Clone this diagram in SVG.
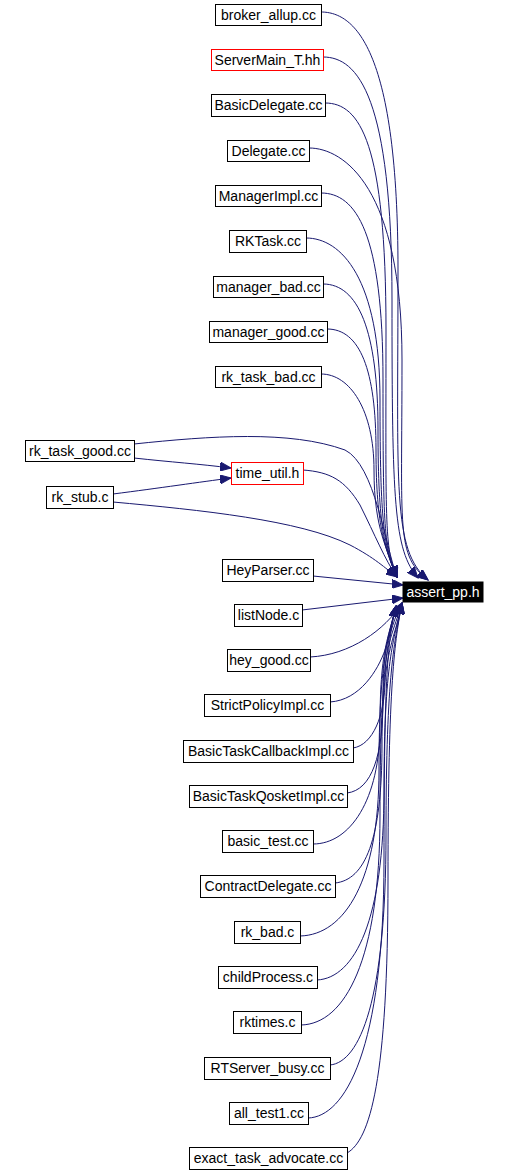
<svg xmlns="http://www.w3.org/2000/svg" width="508" height="1172" viewBox="0 0 508 1172">
<style>
rect{fill:#fff;stroke:#000;stroke-width:1}
.red rect{stroke:#f00}
text{font-family:"Liberation Sans",Arial,sans-serif;font-size:14px;text-anchor:middle;fill:#000}
.hl rect{fill:#000;stroke:#000}
.hl text{fill:#fff}
.e path{fill:none;stroke:#191970;stroke-width:1;marker-end:url(#a)}
</style>
<defs>
<marker id="a" markerWidth="12" markerHeight="9" refX="11" refY="4.5" orient="auto" markerUnits="userSpaceOnUse"><path d="M0,0 L11,4.5 L0,9 z" fill="#191970" stroke="#191970"/></marker>
</defs>
<g class="e" id="edges">
<path d="M 321,12 C 356,12 398,52 398,270 S 392,550 428,580"/>
<path d="M 323,57 C 358,57 392,97 392,300 S 394,550 418,578"/>
<path d="M 325,103 C 360,103 386,143 386,330 S 384,550 397,577"/>
<path d="M 309,148 C 344,148 402,188 402,360 S 396,555 428,580"/>
<path d="M 321,193 C 356,193 383,233 383,380 S 384,550 397,577"/>
<path d="M 306,238 C 341,238 380,278 380,400 S 384,550 397,577"/>
<path d="M 323,284 C 358,284 378,330 378,430 S 385,550 397,577"/>
<path d="M 327,329 C 360,329 376,370 376,450 S 386,550 397,577"/>
<path d="M 321,374 C 350,374 374,410 374,470 S 388,550 397,577"/>
<path d="M 134,444 C 210,436 290,430 345,450 C 375,465 385,545 397,577"/>
<path d="M 134,458 C 170,462 200,464 231,468"/>
<path d="M 113,494 C 160,488 200,482 231,478"/>
<path d="M 113,502 C 200,510 300,520 350,545 C 375,558 385,568 397,577"/>
<path d="M 303,470 C 330,472 345,480 360,505 C 375,535 385,560 397,577"/>
<path d="M 313,576 L 403,585"/>
<path d="M 302,610 L 403,598"/>
<path d="M 310,657 C 350,655 385,630 402,603"/>
<path d="M 330,702 C 360,700 378,670 385,650 C 390,635 395,615 402,603"/>
<path d="M 353,748 C 373,745 385,715 385,680 S 394,630 402,603"/>
<path d="M 347,793 C 372,790 383,755 383,700 S 389,636 396,606"/>
<path d="M 313,844 C 350,844 380,800 380,725 S 388,640 396,606"/>
<path d="M 335,883 C 365,880 382,840 382,745 S 395,640 402,603"/>
<path d="M 300,936 C 345,935 379,880 379,770 S 388,640 396,606"/>
<path d="M 317,980 C 355,978 384,920 384,790 S 394,640 402,603"/>
<path d="M 301,1025 C 345,1024 380,960 380,815 S 388,640 396,606"/>
<path d="M 330,1065 C 360,1062 386,1000 386,835 S 395,640 402,603"/>
<path d="M 308,1118 C 345,1117 384,1050 384,860 S 388,640 396,606"/>
<path d="M 347,1153 C 370,1140 388,1080 388,880 S 395,640 402,603"/>
</g>
<g id="n_assert" class="hl"><rect x="403" y="582" width="80" height="20"/><text x="443" y="597">assert_pp.h</text></g>
<g id="n1"><rect x="215.5" y="4.5" width="106" height="21"/><text x="268.5" y="20">broker_allup.cc</text></g>
<g id="n2" class="red"><rect x="211.5" y="49.5" width="112" height="21"/><text x="267.5" y="65">ServerMain_T.hh</text></g>
<g id="n3"><rect x="211.5" y="94.5" width="114" height="22"/><text x="268.5" y="110">BasicDelegate.cc</text></g>
<g id="n4"><rect x="227.5" y="140.5" width="82" height="21"/><text x="268.5" y="156">Delegate.cc</text></g>
<g id="n5"><rect x="215.5" y="185.5" width="106" height="21"/><text x="268.5" y="201">ManagerImpl.cc</text></g>
<g id="n6"><rect x="229.5" y="230.5" width="77" height="22"/><text x="268" y="246">RKTask.cc</text></g>
<g id="n7"><rect x="213.5" y="276.5" width="110" height="21"/><text x="268.5" y="292">manager_bad.cc</text></g>
<g id="n8"><rect x="209.5" y="321.5" width="118" height="21"/><text x="268.5" y="337">manager_good.cc</text></g>
<g id="n9"><rect x="215.5" y="366.5" width="106" height="21"/><text x="268.5" y="382">rk_task_bad.cc</text></g>
<g id="n10"><rect x="25.5" y="440.5" width="109" height="21"/><text x="80" y="456">rk_task_good.cc</text></g>
<g id="n11"><rect x="46.5" y="486.5" width="67" height="22"/><text x="80" y="502">rk_stub.c</text></g>
<g id="n12" class="red"><rect x="231.5" y="462.5" width="72" height="22"/><text x="267.5" y="478">time_util.h</text></g>
<g id="n13"><rect x="222.5" y="559.5" width="91" height="22"/><text x="268" y="575">HeyParser.cc</text></g>
<g id="n14"><rect x="234.5" y="604.5" width="68" height="22"/><text x="268.5" y="620">listNode.c</text></g>
<g id="n15"><rect x="227.5" y="649.5" width="83" height="22"/><text x="269" y="665">hey_good.cc</text></g>
<g id="n16"><rect x="204.5" y="694.5" width="126" height="22"/><text x="267.5" y="710">StrictPolicyImpl.cc</text></g>
<g id="n17"><rect x="183.5" y="740.5" width="170" height="22"/><text x="268.5" y="756">BasicTaskCallbackImpl.cc</text></g>
<g id="n18"><rect x="189.5" y="785.5" width="158" height="22"/><text x="268.5" y="801">BasicTaskQosketImpl.cc</text></g>
<g id="n19"><rect x="222.5" y="830.5" width="91" height="22"/><text x="268" y="846">basic_test.cc</text></g>
<g id="n20"><rect x="200.5" y="875.5" width="135" height="22"/><text x="268" y="891">ContractDelegate.cc</text></g>
<g id="n21"><rect x="234.5" y="921.5" width="66" height="22"/><text x="267.5" y="937">rk_bad.c</text></g>
<g id="n22"><rect x="218.5" y="966.5" width="99" height="22"/><text x="268" y="982">childProcess.c</text></g>
<g id="n23"><rect x="233.5" y="1011.5" width="68" height="22"/><text x="267.5" y="1027">rktimes.c</text></g>
<g id="n24"><rect x="204.5" y="1057.5" width="126" height="22"/><text x="267.5" y="1073">RTServer_busy.cc</text></g>
<g id="n25"><rect x="229.5" y="1102.5" width="79" height="22"/><text x="269" y="1118">all_test1.cc</text></g>
<g id="n26"><rect x="189.5" y="1147.5" width="158" height="22"/><text x="268.5" y="1163">exact_task_advocate.cc</text></g>
</svg>
